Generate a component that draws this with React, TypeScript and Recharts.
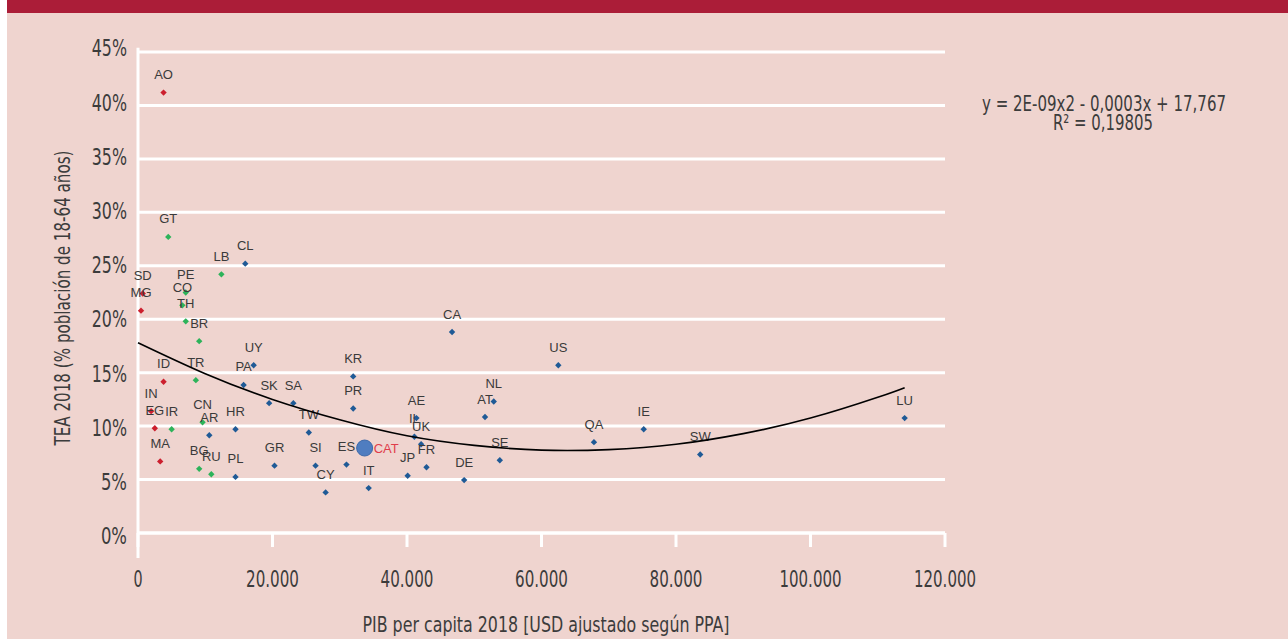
import React from "react";
import { CartesianGrid, ReferenceLine, Scatter, ScatterChart, XAxis, YAxis } from "recharts";

// axis ticks
const xTicks = [0, 20000, 40000, 60000, 80000, 100000, 120000];
const yTicks = [0, 5, 10, 15, 20, 25, 30, 35, 40, 45];

// red group
const redCodes = ["AO", "SD", "MG", "ID", "IN", "EG", "MA"];
const redGdp = [3800, 700, 450, 3800, 1950, 2500, 3300];
const redTea = [41.2, 22.4, 20.8, 14.15, 11.4, 9.8, 6.7];

// green group
const greenCodes = ["GT", "PE", "CO", "TH", "LB", "BR", "TR", "IR", "CN", "BG", "RU"];
const greenGdp = [4500, 7100, 6600, 7100, 12400, 9100, 8600, 5000, 9600, 9100, 10900];
const greenTea = [27.7, 22.5, 21.3, 19.8, 24.2, 17.95, 14.3, 9.7, 10.35, 6.0, 5.5];

// blue group
const blueCodes = [
  "CL", "UY", "PA", "SK", "SA", "HR", "AR", "PL", "GR", "TW", "SI", "CY", "ES", "IT", "KR", "PR",
  "AE", "IL", "UK", "FR", "JP", "CA", "US", "NL", "AT", "SE", "DE", "QA", "IE", "SW", "LU",
];
const blueGdp = [
  15950, 17200, 15700, 19500, 23100, 14500, 10600, 14500, 20300, 25400, 26400, 27900, 31000, 34300, 32000, 32000,
  41400, 41100, 42100, 42900, 40100, 46700, 62500, 52900, 51600, 53800, 48500, 67800, 75200, 83600, 114000,
];
const blueTea = [
  25.2, 15.7, 13.85, 12.15, 12.15, 9.7, 9.15, 5.25, 6.3, 9.4, 6.3, 3.8, 6.4, 4.2, 14.65, 11.65,
  10.75, 9.0, 8.3, 6.15, 5.35, 18.8, 15.7, 12.3, 10.85, 6.8, 4.95, 8.5, 9.7, 7.35, 10.75,
];

// Catalonia
const catCodes = ["CAT"];
const catGdp = [33700];
const catTea = [7.95];

// polynomial trend line
const trendGdp = [0, 10000, 20000, 30000, 40000, 50000, 60000, 70000, 80000, 90000, 100000, 110000, 114000];
const trendTea = [17.8, 14.9, 12.5, 10.6, 9.1, 8.2, 7.75, 7.8, 8.3, 9.3, 10.75, 12.7, 13.6];

const PINK = "#EFD4CF";
const BAND = "#AB1D38";
const TXT = "#3c3c3c";
const NARROW = '"Liberation Sans Narrow", "DejaVu Sans Condensed", "Liberation Sans", sans-serif';
const SANS = '"Liberation Sans", Arial, sans-serif';

const build = (codes: string[], gdp: number[], tea: number[]) =>
  codes.map((code, i) => ({ code, x: gdp[i], y: tea[i] }));

const redData = build(redCodes, redGdp, redTea);
const greenData = build(greenCodes, greenGdp, greenTea);
const blueData = build(blueCodes, blueGdp, blueTea);
const catData = build(catCodes, catGdp, catTea);
const trendData = trendGdp.map((x, i) => ({ x, y: trendTea[i] }));

// rough width of the condensed tick glyphs
const tw = (s: string) =>
  s.split("").reduce((w, ch) => w + (ch === "." || ch === "," ? 7.4 : ch === "%" ? 17 : 9.1), 0);

const fmtX = (v: number) => (v === 0 ? "0" : String(v).replace(/(\d)(?=(\d{3})+$)/g, "$1."));

const renderXTick = (props: any) => {
  const { x, y, payload } = props;
  const s = fmtX(payload.value);
  return (
    <text x={x} y={y + 39.5} textAnchor="middle" fontFamily={NARROW} fontSize={23} fill={TXT}
      textLength={tw(s)} lengthAdjust="spacingAndGlyphs">
      {s}
    </text>
  );
};

const renderYTick = (props: any) => {
  const { x, y, payload } = props;
  const v = payload.value as number;
  const s = `${v}%`;
  const shift = -4 + (7 * (45 - v)) / 45;
  return (
    <text x={x - 11} y={y + shift + 8.3} textAnchor="end" fontFamily={NARROW} fontSize={23} fill={TXT}
      textLength={tw(s)} lengthAdjust="spacingAndGlyphs">
      {s}
    </text>
  );
};

const diamond = (color: string) => (props: any) => {
  const { cx, cy, payload } = props;
  const r = 3.2;
  return (
    <g>
      <polygon points={`${cx},${cy - r} ${cx + r},${cy} ${cx},${cy + r} ${cx - r},${cy}`} fill={color} />
      <text x={cx} y={cy - 13.5} textAnchor="middle" fontFamily={SANS} fontSize={13} fill="#3a3a3a">
        {payload.code}
      </text>
    </g>
  );
};

const CatShape = (props: any) => {
  const { cx, cy, payload } = props;
  return (
    <g>
      <circle cx={cx} cy={cy} r={8} fill="#4F7DC0" stroke="#3F6AA9" strokeWidth={1} />
      <text x={cx + 9} y={cy + 5} fontFamily={SANS} fontSize={13} fill="#E03C4B">
        {payload.code}
      </text>
    </g>
  );
};

const NoShape = () => <g />;

export default function App() {
  return (
    <div style={{ position: "relative", width: 1288, height: 639, background: "#fff", overflow: "hidden" }}>
      <style>{`body{margin:0}`}</style>
      <div style={{ position: "absolute", left: 7, top: 0, right: 0, bottom: 0, background: PINK }} />
      <div style={{ position: "absolute", left: 7, top: 0, right: 0, height: 13, background: BAND }} />
      <div style={{ position: "absolute", left: 0, top: 0 }}>
        <ScatterChart width={1288} height={639} margin={{ top: 52, right: 343, bottom: 46, left: 78 }}>
          <CartesianGrid vertical={false} stroke="#fff" strokeWidth={3} />
          <XAxis
            type="number"
            dataKey="x"
            domain={[0, 120000]}
            ticks={xTicks}
            interval={0}
            height={60}
            axisLine={{ stroke: "#fff", strokeWidth: 3 }}
            tickLine={{ stroke: "#fff", strokeWidth: 3 }}
            tickSize={14}
            tickMargin={0}
            tick={renderXTick}
          />
          <YAxis
            type="number"
            dataKey="y"
            domain={[0, 45]}
            ticks={yTicks}
            interval={0}
            width={60}
            axisLine={false}
            tickLine={false}
            tickSize={0}
            tickMargin={0}
            tick={renderYTick}
          />
          <ReferenceLine
            segment={[{ x: 0, y: -2.35 }, { x: 0, y: 45.4 }]}
            ifOverflow="visible"
            stroke="#fff"
            strokeWidth={3}
          />
          <Scatter data={redData} shape={diamond("#CC1F2E")} isAnimationActive={false} />
          <Scatter data={greenData} shape={diamond("#2DB35A")} isAnimationActive={false} />
          <Scatter data={blueData} shape={diamond("#1F5A96")} isAnimationActive={false} />
          <Scatter
            data={trendData}
            line={{ stroke: "#000", strokeWidth: 1.6 }}
            lineJointType="natural"
            shape={NoShape}
            isAnimationActive={false}
          />
          <Scatter data={catData} shape={CatShape} isAnimationActive={false} />
        </ScatterChart>
      </div>
      <svg width={1288} height={639} style={{ position: "absolute", left: 0, top: 0, pointerEvents: "none" }}>
        <text x={0} y={0} transform="translate(70 298) rotate(-90)" textAnchor="middle" fontFamily={NARROW}
          fontSize={21} fill={TXT} textLength={295} lengthAdjust="spacingAndGlyphs">
          TEA 2018 (% población de 18-64 años)
        </text>
        <text x={546} y={632} textAnchor="middle" fontFamily={NARROW} fontSize={21} fill={TXT}
          textLength={367} lengthAdjust="spacingAndGlyphs">
          PIB per capita 2018 [USD ajustado según PPA]
        </text>
        <text x={1104} y={111} textAnchor="middle" fontFamily={NARROW} fontSize={22} fill={TXT}
          textLength={244} lengthAdjust="spacingAndGlyphs">
          y = 2E-09x2 - 0,0003x + 17,767
        </text>
        <text x={1103} y={130} textAnchor="middle" fontFamily={NARROW} fontSize={22} fill={TXT}
          textLength={100} lengthAdjust="spacingAndGlyphs">
          R² = 0,19805
        </text>
      </svg>
    </div>
  );
}
